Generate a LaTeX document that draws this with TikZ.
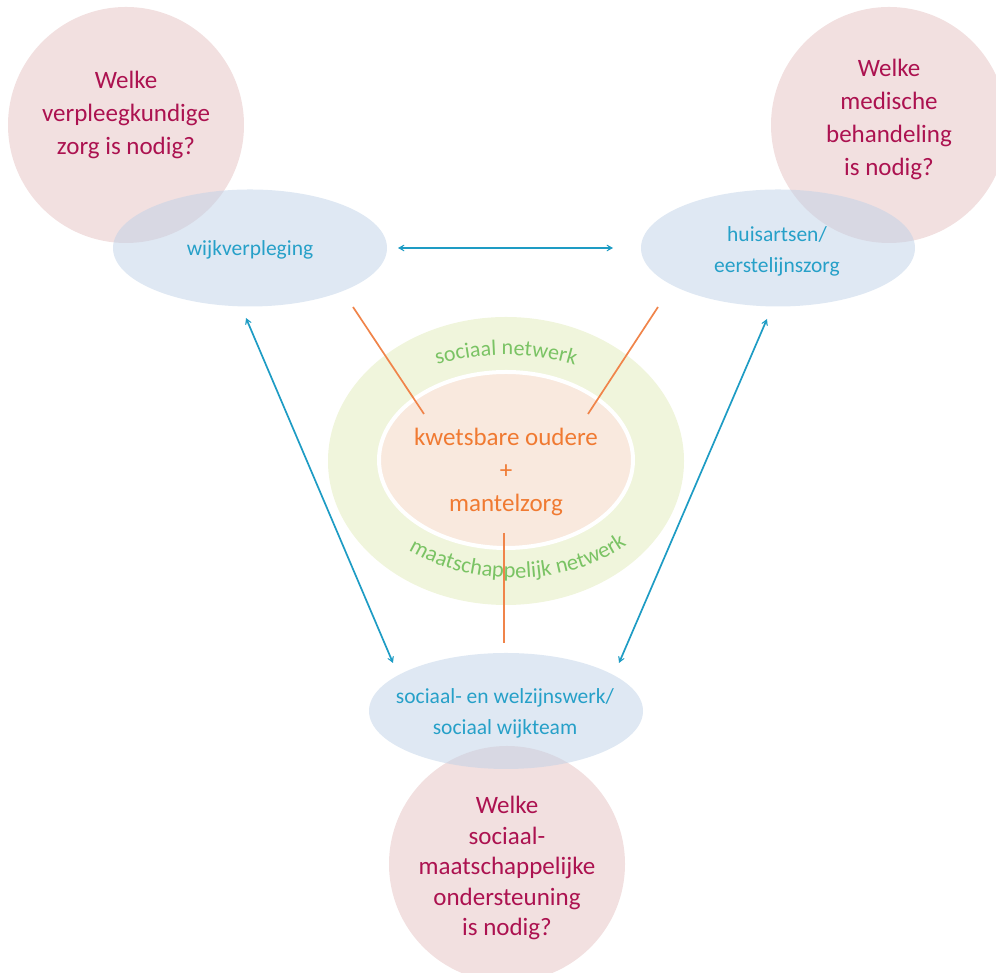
\documentclass[tikz,border=0pt]{standalone}
\usepackage{fontspec}
\setmainfont{Carlito}
\usetikzlibrary{arrows.meta,decorations.text,calc}
\definecolor{pinkfill}{RGB}{229,193,193}
\definecolor{bluefill}{RGB}{191,209,231}
\definecolor{crimson}{RGB}{172,18,80}
\definecolor{bluetext}{RGB}{38,160,200}
\definecolor{bluearrow}{RGB}{30,156,196}
\definecolor{orangeline}{RGB}{240,132,74}
\definecolor{orangetext}{RGB}{240,122,50}
\definecolor{greenring}{RGB}{240,245,220}
\definecolor{greentext}{RGB}{122,195,100}
\definecolor{innerfill}{RGB}{249,233,222}
\tikzset{
  qcircle/.style={circle, minimum size=236pt, inner sep=0pt, fill=pinkfill, fill opacity=0.5, draw=none},
  bfill/.style={fill=bluefill, fill opacity=0.5},
  qtext/.style={text=crimson, align=center, inner sep=0pt, font=\fontsize{25}{33}\selectfont},
  btext/.style={text=bluetext, align=center, inner sep=0pt, font=\fontsize{21.5}{31}\selectfont},
  otext/.style={text=orangetext, align=center, inner sep=0pt, font=\fontsize{25}{33}\selectfont},
  barrow/.style={draw=bluearrow, line width=1.7pt, {Stealth[length=10pt,width=11pt,inset=7pt]}-{Stealth[length=10pt,width=11pt,inset=7pt]}},
  oline/.style={draw=orangeline, line width=1.7pt},
}
\begin{document}
\begin{tikzpicture}[x=1pt,y=1pt]
\useasboundingbox (0,0) rectangle (996,973);
\clip (0,0) rectangle (996,973);
% pink circles
\node[qcircle] (c1) at (126,848) {};
\node[qcircle] (c2) at (889,848) {};
\node[qcircle] (c3) at (507,109) {};
% blue ellipses
\fill[bfill] (250,725) ellipse [x radius=137, y radius=58.5];
\fill[bfill] (778,725) ellipse [x radius=137, y radius=58.5];
\fill[bfill] (506,262) ellipse [x radius=137, y radius=58];
\coordinate (e1) at (250,725);
\coordinate (e2) at (778,725);
\coordinate (e3) at (506,262);
% green ring and inner ellipse
\fill[greenring] (506,512) ellipse [x radius=178, y radius=144];
\draw[white, line width=4pt, fill=innerfill] (506,513) ellipse [x radius=127, y radius=88];
\coordinate (center) at (506,512);
% curved texts
\path[decorate, decoration={text along path, text color=greentext,
  text={|\fontsize{22}{22}\selectfont|sociaal netwerk}, text align=center}]
  ($(506,512)+(160:163 and 106)$) arc[start angle=160, end angle=20, x radius=163, y radius=106];
\path[decorate, decoration={text along path, text color=greentext,
  text={|\fontsize{22.5}{22.5}\selectfont|maatschappelijk netwerk}, text align=center}]
  ($(514,512)+(212:163 and 117)$) arc[start angle=212, end angle=332, x radius=163, y radius=117];
% connectors
\coordinate (h1) at (398,725);
\coordinate (h2) at (613,725);
\draw[barrow] (h1) -- (h2);
\coordinate (l1) at (246,655);
\coordinate (l2) at (393,310);
\draw[barrow] (l1) -- (l2);
\coordinate (r1) at (767,654);
\coordinate (r2) at (619,310);
\draw[barrow] (r1) -- (r2);
\coordinate (o1a) at (353,666);
\coordinate (o1b) at (424,559);
\draw[oline] (o1a) -- (o1b);
\coordinate (o2a) at (658,666);
\coordinate (o2b) at (588,559);
\draw[oline] (o2a) -- (o2b);
\coordinate (o3a) at (504,440);
\coordinate (o3b) at (504,330);
\draw[oline] (o3a) -- (o3b);
% texts
\node[qtext] (t1) at (126,858) {Welke\\verpleegkundige\\zorg is nodig?};
\node[qtext] (t2) at (889,853.5) {Welke\\medische\\behandeling\\is nodig?};
\node[qtext, font=\fontsize{25}{30.5}\selectfont] (t3) at (507,105) {Welke\\sociaal-\\maatschappelijke\\ondersteuning\\is nodig?};
\node[btext] (b1) at (250,723) {wijkverpleging};
\node[btext] (b2) at (777,721.5) {huisartsen/\\eerstelijnszorg};
\node[btext] (b3) at (505,260) {sociaal- en welzijnswerk/\\sociaal wijkteam};
\node[otext] (k) at (506,501) {kwetsbare oudere\\+\\mantelzorg};
\end{tikzpicture}
\end{document}
